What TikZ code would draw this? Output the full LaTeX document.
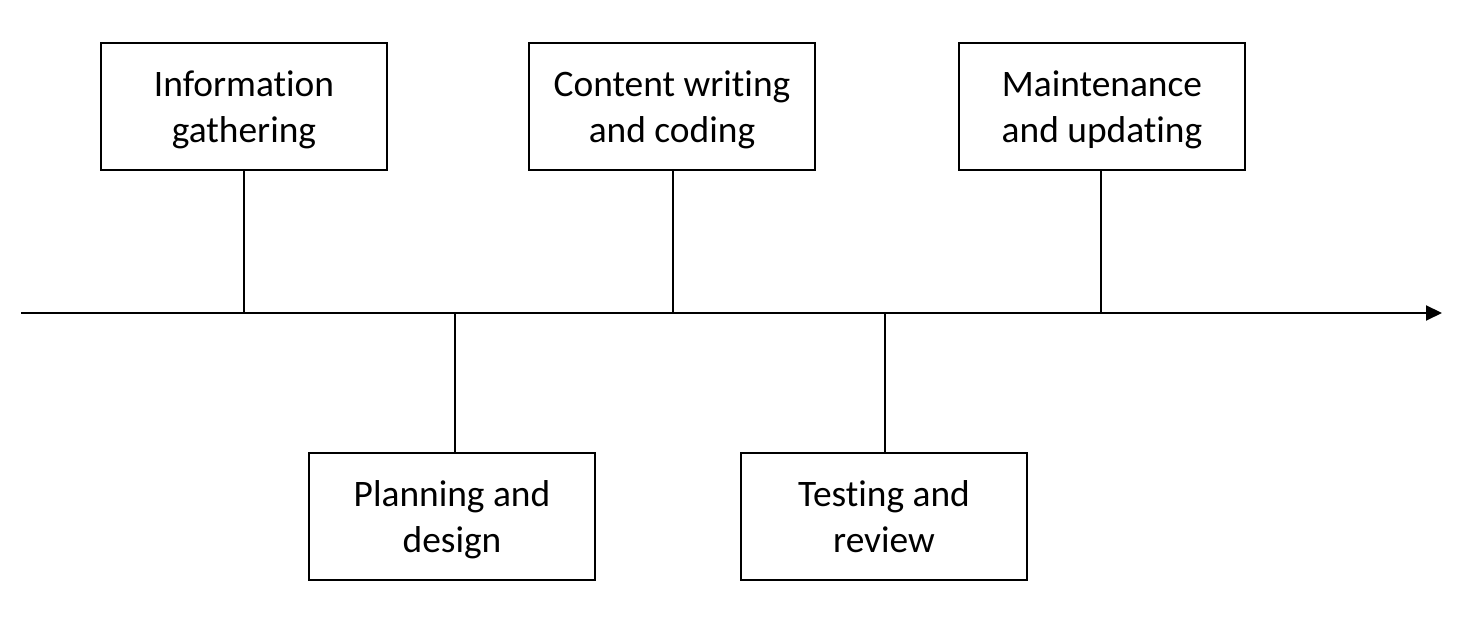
\documentclass[tikz,border=0pt]{standalone}
\usepackage{fontspec}
\setmainfont{Carlito}[Ligatures={NoCommon}]
\usetikzlibrary{arrows.meta}
\newcommand\myTopStrut{\rule{0pt}{18.2pt}}
\newcommand\myBotStrut{\rule[-5pt]{0pt}{5pt}}
\begin{document}
\begin{tikzpicture}[x=0.5pt,y=-0.5pt,
  stagebox/.style={draw=black,line width=1pt,minimum width=143pt,minimum height=63.5pt,
    inner sep=0pt,align=center,font=\fontsize{18.7}{23}\selectfont},
  link/.style={draw=black,line width=1pt}]
\useasboundingbox (0,0) rectangle (1480,640);
\node[stagebox] (info) at (244,106.5) {\myTopStrut Information\\gathering\myBotStrut};
\node[stagebox] (content) at (672,106.5) {\myTopStrut Content writing\\and coding\myBotStrut};
\node[stagebox] (maint) at (1102,106.5) {\myTopStrut Maintenance\\and updating\myBotStrut};
\node[stagebox] (plan) at (452,516.5) {\myTopStrut Planning and\\design\myBotStrut};
\node[stagebox] (test) at (884,516.5) {\myTopStrut Testing and\\review\myBotStrut};
\coordinate (start) at (21,313);
\coordinate (end) at (1442,313);
\draw[link,-{Triangle[length=8pt,width=7.5pt]}] (start) -- (end);
\coordinate (a1) at (244,313);
\coordinate (a2) at (455,313);
\coordinate (a3) at (673,313);
\coordinate (a4) at (885,313);
\coordinate (a5) at (1101,313);
\draw[link] (info.south) -- (a1);
\draw[link] (a2) -- (a2 |- plan.north);
\draw[link] (a3 |- content.south) -- (a3);
\draw[link] (a4) -- (a4 |- test.north);
\draw[link] (a5 |- maint.south) -- (a5);
\end{tikzpicture}
\end{document}
